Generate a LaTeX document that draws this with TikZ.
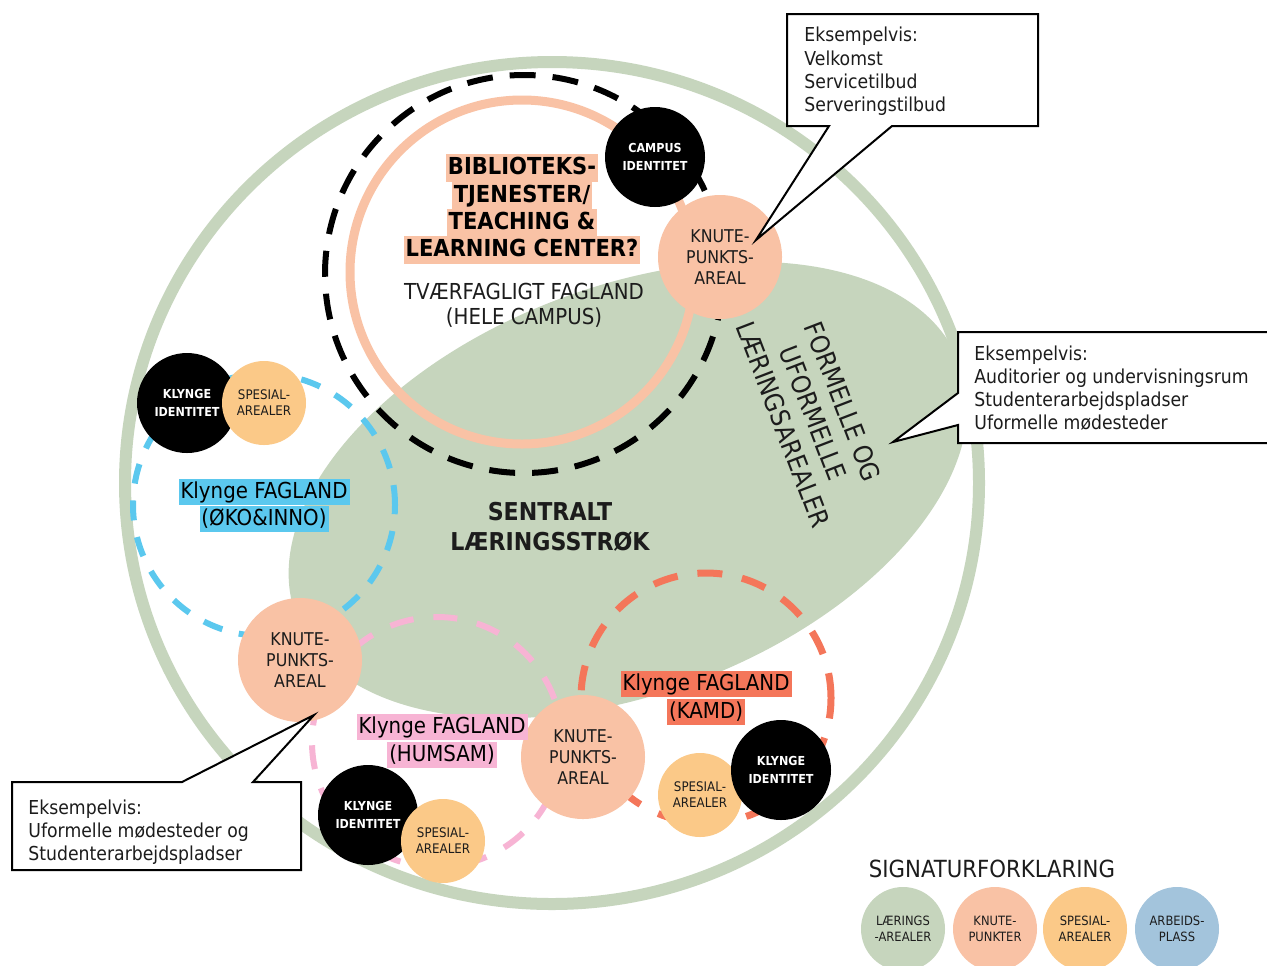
\documentclass[tikz,border=0pt]{standalone}
\usepackage{fontspec}
\setmainfont{DejaVu Sans}[FakeStretch=0.9]
\usetikzlibrary{positioning}
\definecolor{sage}{RGB}{198,213,189}
\definecolor{salmon}{RGB}{249,194,165}
\definecolor{spes}{RGB}{251,201,136}
\definecolor{legblue}{RGB}{163,196,220}
\definecolor{cyanc}{RGB}{91,200,238}
\definecolor{pinkc}{RGB}{247,180,212}
\definecolor{tomatoc}{RGB}{244,118,90}
\definecolor{txt}{RGB}{28,28,28}
\tikzset{
  knute/.style={circle, fill=salmon, minimum size=62pt, inner sep=0pt, align=center, text=txt, font=\fontsize{8.8pt}{10.5pt}\selectfont},
  blackid/.style={circle, fill=black, minimum size=50pt, inner sep=0pt, align=center, text=white, font=\bfseries\fontsize{6.2pt}{8.8pt}\selectfont},
  spesial/.style={circle, fill=spes, minimum size=42pt, inner sep=0pt, align=center, text=txt, font=\fontsize{6.6pt}{8pt}\selectfont},
  legend/.style={circle, minimum size=42pt, inner sep=0pt, align=center, text=txt, font=\fontsize{6.4pt}{8pt}\selectfont},
  dashring/.style={circle, draw, inner sep=0pt},
  hlbib/.style={fill=salmon, inner xsep=1pt, inner ysep=0pt, text height=10pt, text depth=4pt, font=\bfseries\fontsize{11.7pt}{14pt}\selectfont},
  hlfag/.style={inner xsep=1pt, inner ysep=0pt, text height=9.8pt, text depth=3.6pt, font=\fontsize{11pt}{13pt}\selectfont},
  callout/.style={draw=black, fill=white, line width=1pt, line join=miter},
  callouttext/.style={anchor=north west, inner sep=0pt, align=left, text=txt, font=\fontsize{9.6pt}{11.65pt}\selectfont},
}
\begin{document}
\begin{tikzpicture}[x=0.5pt, y=-0.5pt]
\useasboundingbox (0,0) rectangle (1267,965);
\fill[white] (0,0) rectangle (1267,965);

% outer ring and central learning area
\coordinate (ringc) at (552,483);
\draw[sage, line width=6pt] (ringc) ellipse [x radius=427, y radius=421];
\coordinate (ellc) at (628,490);
\fill[sage, rotate around={21:(ellc)}] (ellc) ellipse [x radius=355, y radius=203];

% library ring and dashed cluster rings
\node[dashring, draw=salmon, line width=4.5pt, minimum size=172pt] (libring) at (522,272) {};
\node[dashring, draw=black, line width=3pt, dash pattern=on 13pt off 8.5pt, minimum size=199pt] (campusring) at (524,274) {};
\node[dashring, draw=cyanc, line width=3pt, dash pattern=on 10pt off 8.5pt, minimum size=131pt] (okoring) at (264,505) {};
\node[dashring, draw=pinkc, line width=3pt, dash pattern=on 12pt off 10pt, minimum size=125pt] (humring) at (437,742) {};
\node[dashring, draw=tomatoc, line width=3.5pt, dash pattern=on 12.5pt off 10pt, minimum size=125pt] (kamdring) at (706,698) {};

% free texts
\node[align=center, text=txt, font=\fontsize{11pt}{12.5pt}\selectfont] (tverr) at (524,305) {TVÆRFAGLIGT FAGLAND\\(HELE CAMPUS)};
\node[align=center, text=txt, font=\bfseries\fontsize{12.3pt}{15pt}\selectfont] (sentralt) at (550,527) {SENTRALT\\LÆRINGSSTRØK};
\node[align=center, text=txt, rotate=-69, font=\fontsize{13pt}{16pt}\selectfont] (formelle) at (813,413) {FORMELLE OG\\UFORMELLE\\LÆRINGSAREALER};

% highlighted library label
\node[hlbib] (bib1) at (522,168) {BIBLIOTEKS-};
\node[hlbib] (bib2) at (522,196) {TJENESTER/};
\node[hlbib] (bib3) at (522,223) {TEACHING \&};
\node[hlbib] (bib4) at (522,250) {LEARNING CENTER?};

% circles
\node[blackid] (campus) at (655,157) {CAMPUS\\IDENTITET};
\node[knute] (knute1) at (720,257) {KNUTE-\\PUNKTS-\\AREAL};
\node[blackid] (klynge1) at (187,403) {KLYNGE\\IDENTITET};
\node[spesial] (spes1) at (264,403) {SPESIAL-\\AREALER};
\node[knute] (knute2) at (300,660) {KNUTE-\\PUNKTS-\\AREAL};
\node[knute] (knute3) at (583,757) {KNUTE-\\PUNKTS-\\AREAL};
\node[blackid] (klynge2) at (368,815) {KLYNGE\\IDENTITET};
\node[spesial] (spes2) at (443,841) {SPESIAL-\\AREALER};
\node[spesial] (spes3) at (700,795) {SPESIAL-\\AREALER};
\node[blackid] (klynge3) at (781,770) {KLYNGE\\IDENTITET};

% cluster labels
\node[hlfag, fill=cyanc] (oko1) at (264,492) {Klynge FAGLAND};
\node[hlfag, fill=cyanc] (oko2) at (264,519) {(ØKO\&INNO)};
\node[hlfag, fill=pinkc] (hum1) at (442,727) {Klynge FAGLAND};
\node[hlfag, fill=pinkc] (hum2) at (442,755) {(HUMSAM)};
\node[hlfag, fill=tomatoc] (kamd1) at (706,684) {Klynge FAGLAND};
\node[hlfag, fill=tomatoc] (kamd2) at (706,712) {(KAMD)};

% callouts
\coordinate (tip1) at (756,240);
\draw[callout] (787,14) -- (1038,14) -- (1038,126) -- (892,126) -- (tip1) -- (829,126) -- (787,126) -- cycle;
\node[callouttext] (c1) at (804,27) {Eksempelvis:\\Velkomst\\Servicetilbud\\Serveringstilbud};

\coordinate (tip2) at (893,442);
\draw[callout] (958,393) -- (958,332) -- (1280,332) -- (1280,443) -- (958,443) -- (958,425) -- (tip2) -- cycle;
\node[callouttext] (c2) at (974,345) {Eksempelvis:\\Auditorier og undervisningsrum\\Studenterarbejdspladser\\Uformelle mødesteder};

\coordinate (tip3) at (314,715);
\draw[callout] (12,782) -- (182,782) -- (tip3) -- (253,782) -- (301,782) -- (301,870) -- (12,870) -- cycle;
\node[callouttext] (c3) at (28,799) {Eksempelvis:\\Uformelle mødesteder og\\Studenterarbejdspladser};

% legend
\node[text=txt, font=\fontsize{11.8pt}{14pt}\selectfont] (legtitle) at (992,869) {SIGNATURFORKLARING};
\node[legend, fill=sage] (leg1) at (903,929) {LÆRINGS\\-AREALER};
\node[legend, fill=salmon] (leg2) at (995,929) {KNUTE-\\PUNKTER};
\node[legend, fill=spes] (leg3) at (1085,929) {SPESIAL-\\AREALER};
\node[legend, fill=legblue] (leg4) at (1177,929) {ARBEIDS-\\PLASS};
\end{tikzpicture}
\end{document}
